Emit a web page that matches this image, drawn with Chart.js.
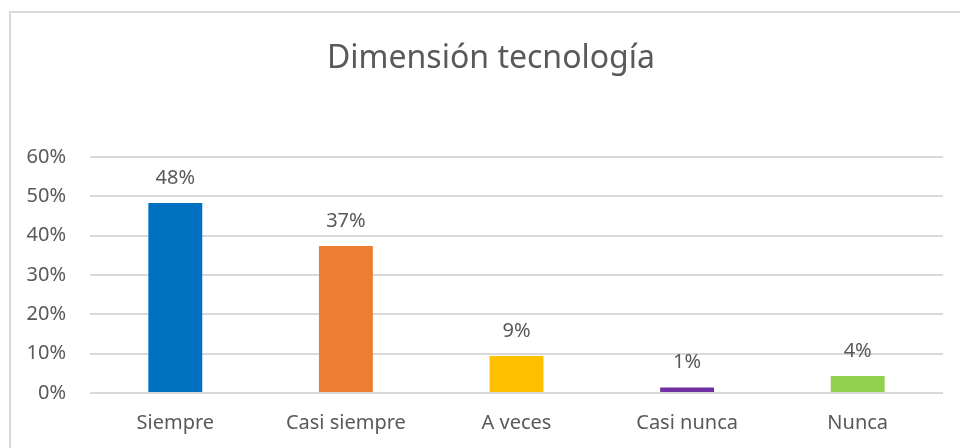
<!DOCTYPE html>
<html>
<head>
<meta charset="utf-8">
<script src="https://cdn.jsdelivr.net/npm/chart.js@4"></script>
<style>
  html, body { margin: 0; padding: 0; background: #fff; overflow: hidden; }
  #wrap { position: relative; width: 960px; height: 448px; }
  #frame {
    position: absolute; left: 9px; top: 11px; width: 960px; height: 448px;
    border-left: 2px solid #d9d9d9; border-top: 2px solid #d9d9d9;
    pointer-events: none;
  }
  canvas { position: absolute; left: 0; top: 0; }
</style>
</head>
<body>
<div id="wrap">
  <canvas id="chart" width="960" height="448"></canvas>
  <div id="frame"></div>
</div>
<script>
const TITLE = "Dimensión tecnología";
const categories = ["Siempre", "Casi siempre", "A veces", "Casi nunca", "Nunca"];
const values = [0.483, 0.374, 0.094, 0.014, 0.043];
const barColors = ["#0070C0", "#ED7D31", "#FFC000", "#7030A0", "#92D050"];
const yTicks = [0, 0.1, 0.2, 0.3, 0.4, 0.5, 0.6];

const FONT = "'Noto Sans', sans-serif";
const TEXT = "#595959";

function pct(v) {
  return Math.round(v * 100) + "%";
}

// value labels above each bar, and the title centred on the frame
const barLabels = {
  id: "barLabels",
  afterDatasetsDraw(chart) {
    const ctx = chart.ctx;
    const meta = chart.getDatasetMeta(0);
    ctx.save();
    ctx.fillStyle = TEXT;
    ctx.textAlign = "center";
    ctx.textBaseline = "middle";
    ctx.font = "32px " + FONT;
    ctx.fillText(TITLE, 491, 59);
    ctx.font = "20px " + FONT;
    meta.data.forEach((bar, i) => {
      ctx.fillText(pct(values[i]), bar.x, bar.y - 25);
    });
    ctx.restore();
  }
};

new Chart(document.getElementById("chart"), {
  type: "bar",
  data: {
    labels: categories,
    datasets: [{
      data: values,
      backgroundColor: barColors,
      borderWidth: 0,
      categoryPercentage: 1,
      barPercentage: 0.316
    }]
  },
  options: {
    responsive: false,
    animation: false,
    layout: { padding: { left: 0, right: 17, top: 157, bottom: 0 } },
    plugins: {
      legend: { display: false },
      tooltip: { enabled: false },
      title: { display: false }
    },
    scales: {
      x: {
        afterFit(scale) { scale.height = 55; },
        grid: { display: false, drawTicks: false },
        border: { display: false },
        ticks: { color: TEXT, font: { family: FONT, size: 20 }, padding: 18 }
      },
      y: {
        min: 0,
        max: 0.6,
        afterFit(scale) { scale.width = 90; },
        afterBuildTicks(scale) { scale.ticks = yTicks.map(v => ({ value: v })); },
        grid: { color: "#d9d9d9", lineWidth: 2, drawTicks: false },
        border: { display: false },
        ticks: {
          color: TEXT,
          font: { family: FONT, size: 20 },
          padding: 24,
          callback: v => pct(v)
        }
      }
    }
  },
  plugins: [barLabels]
});
</script>
</body>
</html>
